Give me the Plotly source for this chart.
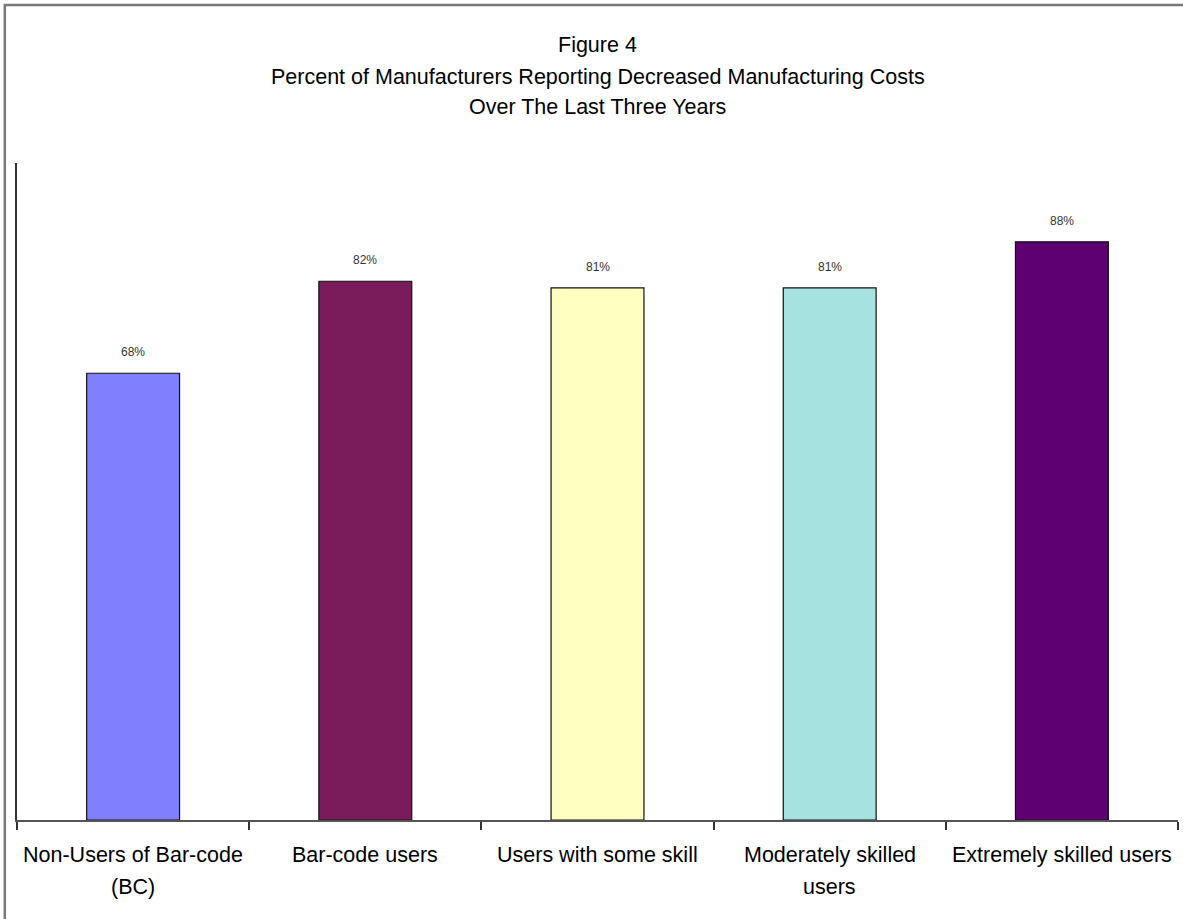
import plotly.graph_objects as go

# Survey results: share of manufacturers reporting lower manufacturing costs
categories = [
    "Non-Users of Bar-code (BC)",
    "Bar-code users",
    "Users with some skill",
    "Moderately skilled users",
    "Extremely skilled users",
]
label_line1 = [
    "Non-Users of Bar-code",
    "Bar-code users",
    "Users with some skill",
    "Moderately skilled",
    "Extremely skilled users",
]
label_line2 = ["(BC)", "", "", "users", ""]
percent = [68, 82, 81, 81, 88]
bar_colors = ["#8080FF", "#7A1C5B", "#FFFFC2", "#A6E2E0", "#5F0072"]

title_lines = [
    "Figure 4",
    "Percent of Manufacturers Reporting Decreased Manufacturing Costs",
    "Over The Last Three Years",
]

FONT = "Liberation Sans, Arial, sans-serif"

fig = go.Figure()
fig.add_trace(go.Bar(
    x=categories,
    y=percent,
    width=0.4,
    marker=dict(color=bar_colors, line=dict(color="#111111", width=1.2)),
    hoverinfo="skip",
))

# Percentage labels above each bar
for cat, val in zip(categories, percent):
    fig.add_annotation(
        x=cat, y=val, text=f"{val}%", showarrow=False,
        yanchor="bottom", yshift=12,
        font=dict(family=FONT, size=12, color="#333333"),
    )

# Category labels under the axis, two lines each where needed
for cat, l1, l2 in zip(categories, label_line1, label_line2):
    fig.add_annotation(
        x=cat, xref="x", yref="paper", y=0, yanchor="middle",
        yshift=-35, text=l1, showarrow=False,
        font=dict(family=FONT, size=21.5, color="#000000"),
    )
    if l2:
        fig.add_annotation(
            x=cat, xref="x", yref="paper", y=0, yanchor="middle",
            yshift=-67, text=l2, showarrow=False,
            font=dict(family=FONT, size=21.5, color="#000000"),
        )

# Title block, one annotation per line
for line, ypos in zip(title_lines, [1.1796, 1.1309, 1.0852]):
    fig.add_annotation(
        xref="paper", yref="paper", x=0.5, y=ypos, yanchor="middle",
        text=line, showarrow=False,
        font=dict(family=FONT, size=21.5, color="#000000"),
    )

# Outer frame of the chart
fig.add_shape(
    type="rect", xref="paper", yref="paper",
    x0=-0.0105, y0=-0.3, x1=1.05, y1=1.2405,
    line=dict(color="#7a7a7a", width=2.5), fillcolor="rgba(0,0,0,0)",
    layer="below",
)

fig.update_layout(
    width=1183, height=919,
    margin=dict(l=17, r=5, t=163, b=99),
    paper_bgcolor="white", plot_bgcolor="white",
    showlegend=False, bargap=0.6,
    font=dict(family=FONT, color="#111111"),
    xaxis=dict(
        type="category", categoryarray=categories, range=[-0.5, 4.5],
        tickson="boundaries", ticks="outside", ticklen=8, tickwidth=2,
        tickcolor="#333333", showline=True, linecolor="#555555", linewidth=2,
        showgrid=False, zeroline=False, showticklabels=False,
    ),
    xaxis2=dict(
        type="category", categoryarray=categories, range=[-0.5, 4.5],
        overlaying="x", matches="x", side="bottom", anchor="y",
        tickson="boundaries", ticks="inside", ticklen=10, tickwidth=2,
        tickcolor="#333333", showticklabels=False, showgrid=False,
        showline=False, zeroline=False,
    ),
    yaxis=dict(
        range=[0, 100], showline=True, linecolor="#333333", linewidth=2,
        showgrid=False, zeroline=False, ticks="", showticklabels=False,
    ),
)

fig.write_html("out.html")
